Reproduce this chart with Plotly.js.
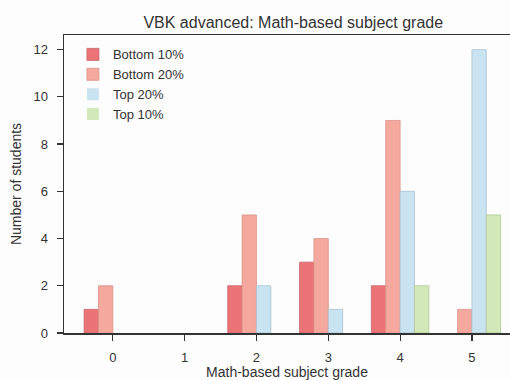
<!DOCTYPE html>
<html>
<head>
<meta charset="utf-8">
<script src="https://cdn.plot.ly/plotly-3.0.1.min.js"></script>
<style>
  html, body { margin: 0; padding: 0; background: #fdfdfd; }
  #chart { width: 510px; height: 380px; }
</style>
</head>
<body>
<div id="chart"></div>
<script>
// Grade categories on the x axis
const grades = [0, 1, 2, 3, 4, 5];

// Student counts per grade for each group
const bottom10 = [1, 0, 2, 3, 2, 0];
const bottom20 = [2, 0, 5, 4, 9, 1];
const top20    = [0, 0, 2, 1, 6, 12];
const top10    = [0, 0, 0, 0, 2, 5];

const seriesNames = ['Bottom 10%', 'Bottom 20%', 'Top 20%', 'Top 10%'];
const seriesValues = [bottom10, bottom20, top20, top10];
const fillColors = ['#ec7479', '#f5a89d', '#c9e3f0', '#d3e8b8'];
const edgeColors = ['#c9646a', '#d8948a', '#a9c4d2', '#b4c99c'];

const traces = seriesNames.map((name, i) => ({
  type: 'bar',
  name: name,
  x: grades,
  y: seriesValues[i],
  marker: {
    color: fillColors[i],
    // no outline on empty bars, so a zero count leaves nothing on the axis
    line: { color: edgeColors[i], width: seriesValues[i].map(v => (v > 0 ? 0.8 : 0)) }
  },
  hoverinfo: 'x+y+name'
}));

const family = 'Liberation Sans, Arial, sans-serif';
const tickFont = { family: family, size: 13, color: '#333' };
const labelFont = { family: family, size: 14, color: '#333' };

const layout = {
  width: 510,
  height: 380,
  paper_bgcolor: '#fdfdfd',
  plot_bgcolor: '#fdfdfd',
  margin: { l: 64, r: 0, t: 35, b: 47 },
  barmode: 'group',
  bargap: 0.2,
  bargroupgap: 0,
  font: tickFont,
  title: {
    text: 'VBK advanced: Math-based subject grade',
    font: { family: family, size: 16, color: '#333' },
    x: 0.575, xanchor: 'center',
    y: 0.94, yanchor: 'middle'
  },
  xaxis: {
    range: [-0.68, 5.53],
    tickvals: grades,
    ticktext: grades.map(String),
    ticks: 'outside', ticklen: 6, tickwidth: 1.2, tickcolor: '#333',
    ticklabelstandoff: 6,
    showgrid: false, zeroline: false,
    showline: true, linecolor: '#333', linewidth: 1.5,
    mirror: true,
    tickfont: tickFont,
    title: { text: 'Math-based subject grade', font: labelFont, standoff: 9 }
  },
  yaxis: {
    range: [0, 12.62],
    tickvals: [0, 2, 4, 6, 8, 10, 12],
    ticks: 'outside', ticklen: 6, tickwidth: 1.2, tickcolor: '#333',
    ticklabelstandoff: 6,
    showgrid: false, zeroline: false,
    showline: true, linecolor: '#333', linewidth: 1.5,
    mirror: false,
    tickfont: tickFont,
    title: { text: 'Number of students', font: labelFont, standoff: 8 }
  },
  legend: {
    x: 0.02, y: 0.985, xanchor: 'left', yanchor: 'top',
    bgcolor: 'rgba(0,0,0,0)',
    font: { family: family, size: 13, color: '#333' },
    tracegroupgap: 0,
    itemwidth: 30
  },
  showlegend: true
};

Plotly.newPlot('chart', traces, layout, { displayModeBar: false, staticPlot: true });
</script>
</body>
</html>
